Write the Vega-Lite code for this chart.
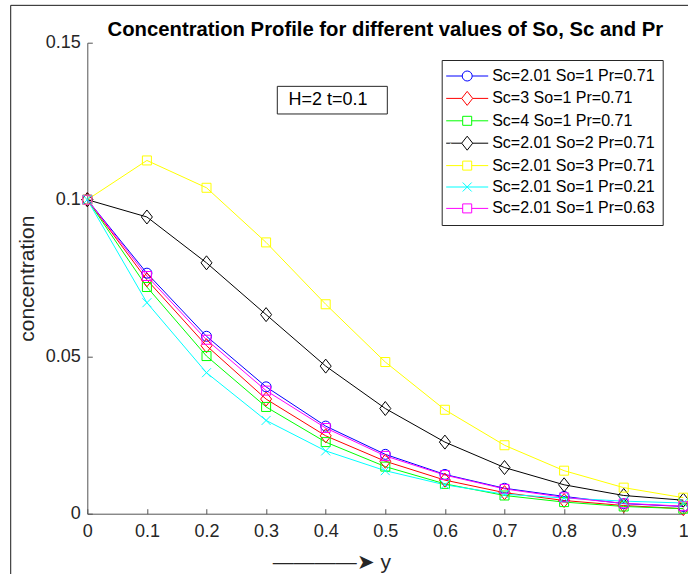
{
  "$schema": "https://vega.github.io/schema/vega-lite/v6.json",
  "width": 596,
  "height": 471,
  "autosize": {"type": "none"},
  "padding": {"left": 87.3, "top": 42.7, "right": 4.7, "bottom": 60.3},
  "background": "white",
  "config": {
    "view": {"stroke": null},
    "font": "Liberation Sans",
    "axis": {
      "domainColor": "#555555",
      "tickColor": "#555555",
      "labelColor": "#262626",
      "titleColor": "#262626",
      "labelFont": "Liberation Sans",
      "titleFont": "Liberation Sans",
      "labelFontSize": 18,
      "titleFontSize": 21,
      "titleFontWeight": "normal",
      "grid": false,
      "tickSize": -5
    },
    "legend": {
      "orient": "none",
      "legendX": 354.4,
      "legendY": 17.3,
      "titleFontSize": 6,
      "titleColor": "#ffffff",
      "titleOrient": "left",
      "titlePadding": 7.5,
      "padding": 8,
      "rowPadding": 5.4,
      "strokeColor": "#262626",
      "fillColor": "#ffffff",
      "labelFont": "Liberation Sans",
      "labelFontSize": 16,
      "labelColor": "#000000",
      "labelOffset": 17,
      "labelLimit": 300,
      "symbolSize": 100,
      "symbolStrokeWidth": 1,
      "symbolOpacity": 1,
      "symbolFillColor": "transparent"
    }
  },
  "title": {
    "text": "Concentration Profile for different values of So, Sc and Pr",
    "fontSize": 20.3,
    "fontWeight": "bold",
    "font": "Liberation Sans",
    "color": "#000000",
    "anchor": "middle",
    "frame": "group",
    "dy": 39
  },
  "datasets": {
    "profiles": [
      {"s": "Sc=2.01 So=1 Pr=0.71", "pos": 0, "conc": 0.1},
      {"s": "Sc=2.01 So=1 Pr=0.71", "pos": 0.1, "conc": 0.0766},
      {"s": "Sc=2.01 So=1 Pr=0.71", "pos": 0.2, "conc": 0.0565},
      {"s": "Sc=2.01 So=1 Pr=0.71", "pos": 0.3, "conc": 0.0404},
      {"s": "Sc=2.01 So=1 Pr=0.71", "pos": 0.4, "conc": 0.0279},
      {"s": "Sc=2.01 So=1 Pr=0.71", "pos": 0.5, "conc": 0.0189},
      {"s": "Sc=2.01 So=1 Pr=0.71", "pos": 0.6, "conc": 0.0125},
      {"s": "Sc=2.01 So=1 Pr=0.71", "pos": 0.7, "conc": 0.0081},
      {"s": "Sc=2.01 So=1 Pr=0.71", "pos": 0.8, "conc": 0.0055},
      {"s": "Sc=2.01 So=1 Pr=0.71", "pos": 0.9, "conc": 0.0032},
      {"s": "Sc=2.01 So=1 Pr=0.71", "pos": 1.0, "conc": 0.0023},
      {"s": "Sc=3 So=1 Pr=0.71", "pos": 0, "conc": 0.1},
      {"s": "Sc=3 So=1 Pr=0.71", "pos": 0.1, "conc": 0.0745},
      {"s": "Sc=3 So=1 Pr=0.71", "pos": 0.2, "conc": 0.0535},
      {"s": "Sc=3 So=1 Pr=0.71", "pos": 0.3, "conc": 0.0365},
      {"s": "Sc=3 So=1 Pr=0.71", "pos": 0.4, "conc": 0.0248},
      {"s": "Sc=3 So=1 Pr=0.71", "pos": 0.5, "conc": 0.0167},
      {"s": "Sc=3 So=1 Pr=0.71", "pos": 0.6, "conc": 0.0107},
      {"s": "Sc=3 So=1 Pr=0.71", "pos": 0.7, "conc": 0.0067},
      {"s": "Sc=3 So=1 Pr=0.71", "pos": 0.8, "conc": 0.0042},
      {"s": "Sc=3 So=1 Pr=0.71", "pos": 0.9, "conc": 0.0026},
      {"s": "Sc=3 So=1 Pr=0.71", "pos": 1.0, "conc": 0.0016},
      {"s": "Sc=4 So=1 Pr=0.71", "pos": 0, "conc": 0.1},
      {"s": "Sc=4 So=1 Pr=0.71", "pos": 0.1, "conc": 0.0722},
      {"s": "Sc=4 So=1 Pr=0.71", "pos": 0.2, "conc": 0.0502},
      {"s": "Sc=4 So=1 Pr=0.71", "pos": 0.3, "conc": 0.034},
      {"s": "Sc=4 So=1 Pr=0.71", "pos": 0.4, "conc": 0.0228},
      {"s": "Sc=4 So=1 Pr=0.71", "pos": 0.5, "conc": 0.015},
      {"s": "Sc=4 So=1 Pr=0.71", "pos": 0.6, "conc": 0.0095},
      {"s": "Sc=4 So=1 Pr=0.71", "pos": 0.7, "conc": 0.0058},
      {"s": "Sc=4 So=1 Pr=0.71", "pos": 0.8, "conc": 0.0037},
      {"s": "Sc=4 So=1 Pr=0.71", "pos": 0.9, "conc": 0.0023},
      {"s": "Sc=4 So=1 Pr=0.71", "pos": 1.0, "conc": 0.0016},
      {"s": "Sc=2.01 So=2 Pr=0.71", "pos": 0, "conc": 0.1},
      {"s": "Sc=2.01 So=2 Pr=0.71", "pos": 0.1, "conc": 0.0945},
      {"s": "Sc=2.01 So=2 Pr=0.71", "pos": 0.2, "conc": 0.0799},
      {"s": "Sc=2.01 So=2 Pr=0.71", "pos": 0.3, "conc": 0.0634},
      {"s": "Sc=2.01 So=2 Pr=0.71", "pos": 0.4, "conc": 0.047},
      {"s": "Sc=2.01 So=2 Pr=0.71", "pos": 0.5, "conc": 0.0335},
      {"s": "Sc=2.01 So=2 Pr=0.71", "pos": 0.6, "conc": 0.0228},
      {"s": "Sc=2.01 So=2 Pr=0.71", "pos": 0.7, "conc": 0.0147},
      {"s": "Sc=2.01 So=2 Pr=0.71", "pos": 0.8, "conc": 0.0092},
      {"s": "Sc=2.01 So=2 Pr=0.71", "pos": 0.9, "conc": 0.0058},
      {"s": "Sc=2.01 So=2 Pr=0.71", "pos": 1.0, "conc": 0.0043},
      {"s": "Sc=2.01 So=3 Pr=0.71", "pos": 0, "conc": 0.1},
      {"s": "Sc=2.01 So=3 Pr=0.71", "pos": 0.1, "conc": 0.1125},
      {"s": "Sc=2.01 So=3 Pr=0.71", "pos": 0.2, "conc": 0.1038},
      {"s": "Sc=2.01 So=3 Pr=0.71", "pos": 0.3, "conc": 0.0864},
      {"s": "Sc=2.01 So=3 Pr=0.71", "pos": 0.4, "conc": 0.0667},
      {"s": "Sc=2.01 So=3 Pr=0.71", "pos": 0.5, "conc": 0.0483},
      {"s": "Sc=2.01 So=3 Pr=0.71", "pos": 0.6, "conc": 0.0331},
      {"s": "Sc=2.01 So=3 Pr=0.71", "pos": 0.7, "conc": 0.0218},
      {"s": "Sc=2.01 So=3 Pr=0.71", "pos": 0.8, "conc": 0.0137},
      {"s": "Sc=2.01 So=3 Pr=0.71", "pos": 0.9, "conc": 0.0083},
      {"s": "Sc=2.01 So=3 Pr=0.71", "pos": 1.0, "conc": 0.0051},
      {"s": "Sc=2.01 So=1 Pr=0.21", "pos": 0, "conc": 0.1},
      {"s": "Sc=2.01 So=1 Pr=0.21", "pos": 0.1, "conc": 0.0672},
      {"s": "Sc=2.01 So=1 Pr=0.21", "pos": 0.2, "conc": 0.0449},
      {"s": "Sc=2.01 So=1 Pr=0.21", "pos": 0.3, "conc": 0.0297},
      {"s": "Sc=2.01 So=1 Pr=0.21", "pos": 0.4, "conc": 0.02},
      {"s": "Sc=2.01 So=1 Pr=0.21", "pos": 0.5, "conc": 0.0137},
      {"s": "Sc=2.01 So=1 Pr=0.21", "pos": 0.6, "conc": 0.0092},
      {"s": "Sc=2.01 So=1 Pr=0.21", "pos": 0.7, "conc": 0.0062},
      {"s": "Sc=2.01 So=1 Pr=0.21", "pos": 0.8, "conc": 0.005},
      {"s": "Sc=2.01 So=1 Pr=0.21", "pos": 0.9, "conc": 0.004},
      {"s": "Sc=2.01 So=1 Pr=0.21", "pos": 1.0, "conc": 0.0034},
      {"s": "Sc=2.01 So=1 Pr=0.63", "pos": 0, "conc": 0.1},
      {"s": "Sc=2.01 So=1 Pr=0.63", "pos": 0.1, "conc": 0.0757},
      {"s": "Sc=2.01 So=1 Pr=0.63", "pos": 0.2, "conc": 0.0554},
      {"s": "Sc=2.01 So=1 Pr=0.63", "pos": 0.3, "conc": 0.0392},
      {"s": "Sc=2.01 So=1 Pr=0.63", "pos": 0.4, "conc": 0.0273},
      {"s": "Sc=2.01 So=1 Pr=0.63", "pos": 0.5, "conc": 0.0184},
      {"s": "Sc=2.01 So=1 Pr=0.63", "pos": 0.6, "conc": 0.0123},
      {"s": "Sc=2.01 So=1 Pr=0.63", "pos": 0.7, "conc": 0.0079},
      {"s": "Sc=2.01 So=1 Pr=0.63", "pos": 0.8, "conc": 0.0052},
      {"s": "Sc=2.01 So=1 Pr=0.63", "pos": 0.9, "conc": 0.0033},
      {"s": "Sc=2.01 So=1 Pr=0.63", "pos": 1.0, "conc": 0.0024}
    ]
  },
  "layer": [
    {
      "data": {"values": [{"label": "frame"}]},
      "mark": {"type": "rect", "fill": null, "fillOpacity": 0, "stroke": "#1a1a1a", "strokeWidth": 1, "clip": false},
      "encoding": {
        "x": {"datum": -0.1285, "type": "quantitative"},
        "x2": {"datum": 1.1},
        "y": {"datum": 0.1619, "type": "quantitative"},
        "y2": {"datum": -0.03}
      }
    },
    {
      "data": {"name": "profiles"},
      "mark": {"type": "line", "strokeWidth": 1, "clip": false},
      "encoding": {
        "x": {
          "field": "pos", "type": "quantitative",
          "scale": {"domain": [0, 1], "nice": false, "zero": false},
          "axis": {
            "values": [0, 0.1, 0.2, 0.3, 0.4, 0.5, 0.6, 0.7, 0.8, 0.9, 1],
            "format": "~g",
            "labelPadding": 14,
            "labelFlush": false,
            "title": "————➤ y",
            "titleX": 244,
            "titleY": 55,
            "titleBaseline": "alphabetic",
            "titleAnchor": "start",
            "titleAlign": "center"
          }
        },
        "y": {
          "field": "conc", "type": "quantitative",
          "scale": {"domain": [0, 0.15], "nice": false},
          "axis": {
            "values": [0, 0.05, 0.1, 0.15],
            "format": "~g",
            "labelPadding": 12,
            "labelFlush": false,
            "title": "concentration",
            "titlePadding": 8
          }
        },
        "color": {
          "field": "s", "type": "nominal",
          "title": ".",
          "scale": {
            "domain": ["Sc=2.01 So=1 Pr=0.71", "Sc=3 So=1 Pr=0.71", "Sc=4 So=1 Pr=0.71", "Sc=2.01 So=2 Pr=0.71", "Sc=2.01 So=3 Pr=0.71", "Sc=2.01 So=1 Pr=0.21", "Sc=2.01 So=1 Pr=0.63"],
            "range": ["#0000ff", "#ff0000", "#00ff00", "#000000", "#ffff00", "#00ffff", "#ff00ff"]
          }
        },
        "order": {"field": "pos"}
      }
    },
    {
      "data": {"name": "profiles"},
      "mark": {"type": "point", "filled": false, "strokeWidth": 1, "size": 100, "opacity": 0, "clip": false},
      "encoding": {
        "x": {"field": "pos", "type": "quantitative"},
        "y": {"field": "conc", "type": "quantitative"},
        "color": {"field": "s", "type": "nominal", "title": "."},
        "shape": {
          "field": "s", "type": "nominal",
          "title": ".",
          "scale": {
            "domain": ["Sc=2.01 So=1 Pr=0.71", "Sc=3 So=1 Pr=0.71", "Sc=4 So=1 Pr=0.71", "Sc=2.01 So=2 Pr=0.71", "Sc=2.01 So=3 Pr=0.71", "Sc=2.01 So=1 Pr=0.21", "Sc=2.01 So=1 Pr=0.63"],
            "range": [
              "M-4.2,0H-1M1,0H4.2M1,0L0.924,0.383L0.707,0.707L0.383,0.924L0,1L-0.383,0.924L-0.707,0.707L-0.924,0.383L-1,0L-0.924,-0.383L-0.707,-0.707L-0.383,-0.924L0,-1L0.383,-0.924L0.707,-0.707L0.924,-0.383Z",
              "M-4.2,0H-1.1M1.1,0H4.2M0,-1.4L1.1,0L0,1.4L-1.1,0Z",
              "M-4.2,0H-0.9M0.9,0H4.2M-0.9,-0.9H0.9V0.9H-0.9Z",
              "M-4.2,0H-1.1M1.1,0H4.2M0,-1.4L1.1,0L0,1.4L-1.1,0Z",
              "M-4.2,0H-0.9M0.9,0H4.2M-0.9,-0.9H0.9V0.9H-0.9Z",
              "M-4.2,0H4.2M-0.9,-0.9L0.9,0.9M-0.9,0.9L0.9,-0.9",
              "M-4.2,0H-0.9M0.9,0H4.2M-0.9,-0.9H0.9V0.9H-0.9Z"
            ]
          }
        }
      }
    },
    {
      "data": {"name": "profiles"},
      "transform": [{"filter": {"field": "s", "oneOf": ["Sc=2.01 So=1 Pr=0.71"]}}],
      "mark": {"type": "point", "filled": false, "strokeWidth": 1, "size": 100, "opacity": 1, "clip": false, "shape": "M1,0L0.924,0.383L0.707,0.707L0.383,0.924L0,1L-0.383,0.924L-0.707,0.707L-0.924,0.383L-1,0L-0.924,-0.383L-0.707,-0.707L-0.383,-0.924L0,-1L0.383,-0.924L0.707,-0.707L0.924,-0.383Z"},
      "encoding": {
        "x": {"field": "pos", "type": "quantitative"},
        "y": {"field": "conc", "type": "quantitative"},
        "color": {"field": "s", "type": "nominal", "title": "."}
      }
    },
    {
      "data": {"name": "profiles"},
      "transform": [{"filter": {"field": "s", "oneOf": ["Sc=3 So=1 Pr=0.71", "Sc=2.01 So=2 Pr=0.71"]}}],
      "mark": {"type": "point", "filled": false, "strokeWidth": 1, "size": 100, "opacity": 1, "clip": false, "shape": "M0,-1.4L1.1,0L0,1.4L-1.1,0Z"},
      "encoding": {
        "x": {"field": "pos", "type": "quantitative"},
        "y": {"field": "conc", "type": "quantitative"},
        "color": {"field": "s", "type": "nominal", "title": "."}
      }
    },
    {
      "data": {"name": "profiles"},
      "transform": [{"filter": {"field": "s", "oneOf": ["Sc=4 So=1 Pr=0.71", "Sc=2.01 So=3 Pr=0.71", "Sc=2.01 So=1 Pr=0.63"]}}],
      "mark": {"type": "point", "filled": false, "strokeWidth": 1, "size": 100, "opacity": 1, "clip": false, "shape": "M-0.9,-0.9H0.9V0.9H-0.9Z"},
      "encoding": {
        "x": {"field": "pos", "type": "quantitative"},
        "y": {"field": "conc", "type": "quantitative"},
        "color": {"field": "s", "type": "nominal", "title": "."}
      }
    },
    {
      "data": {"name": "profiles"},
      "transform": [{"filter": {"field": "s", "oneOf": ["Sc=2.01 So=1 Pr=0.21"]}}],
      "mark": {"type": "point", "filled": false, "strokeWidth": 1, "size": 100, "opacity": 1, "clip": false, "shape": "M-0.9,-0.9L0.9,0.9M-0.9,0.9L0.9,-0.9"},
      "encoding": {
        "x": {"field": "pos", "type": "quantitative"},
        "y": {"field": "conc", "type": "quantitative"},
        "color": {"field": "s", "type": "nominal", "title": "."}
      }
    },
    {
      "data": {"values": [{"label": "H=2 t=0.1"}]},
      "mark": {"type": "rect", "fill": "#ffffff", "stroke": "#262626", "strokeWidth": 1},
      "encoding": {
        "x": {"datum": 0.3188, "type": "quantitative"},
        "x2": {"datum": 0.5034},
        "y": {"datum": 0.1361, "type": "quantitative"},
        "y2": {"datum": 0.1273}
      }
    },
    {
      "data": {"values": [{"label": "H=2 t=0.1"}]},
      "mark": {"type": "text", "fontSize": 18, "font": "Liberation Sans", "color": "#000000", "align": "center", "baseline": "middle"},
      "encoding": {
        "x": {"datum": 0.4039, "type": "quantitative"},
        "y": {"datum": 0.1318, "type": "quantitative"},
        "text": {"field": "label"}
      }
    }
  ]
}
